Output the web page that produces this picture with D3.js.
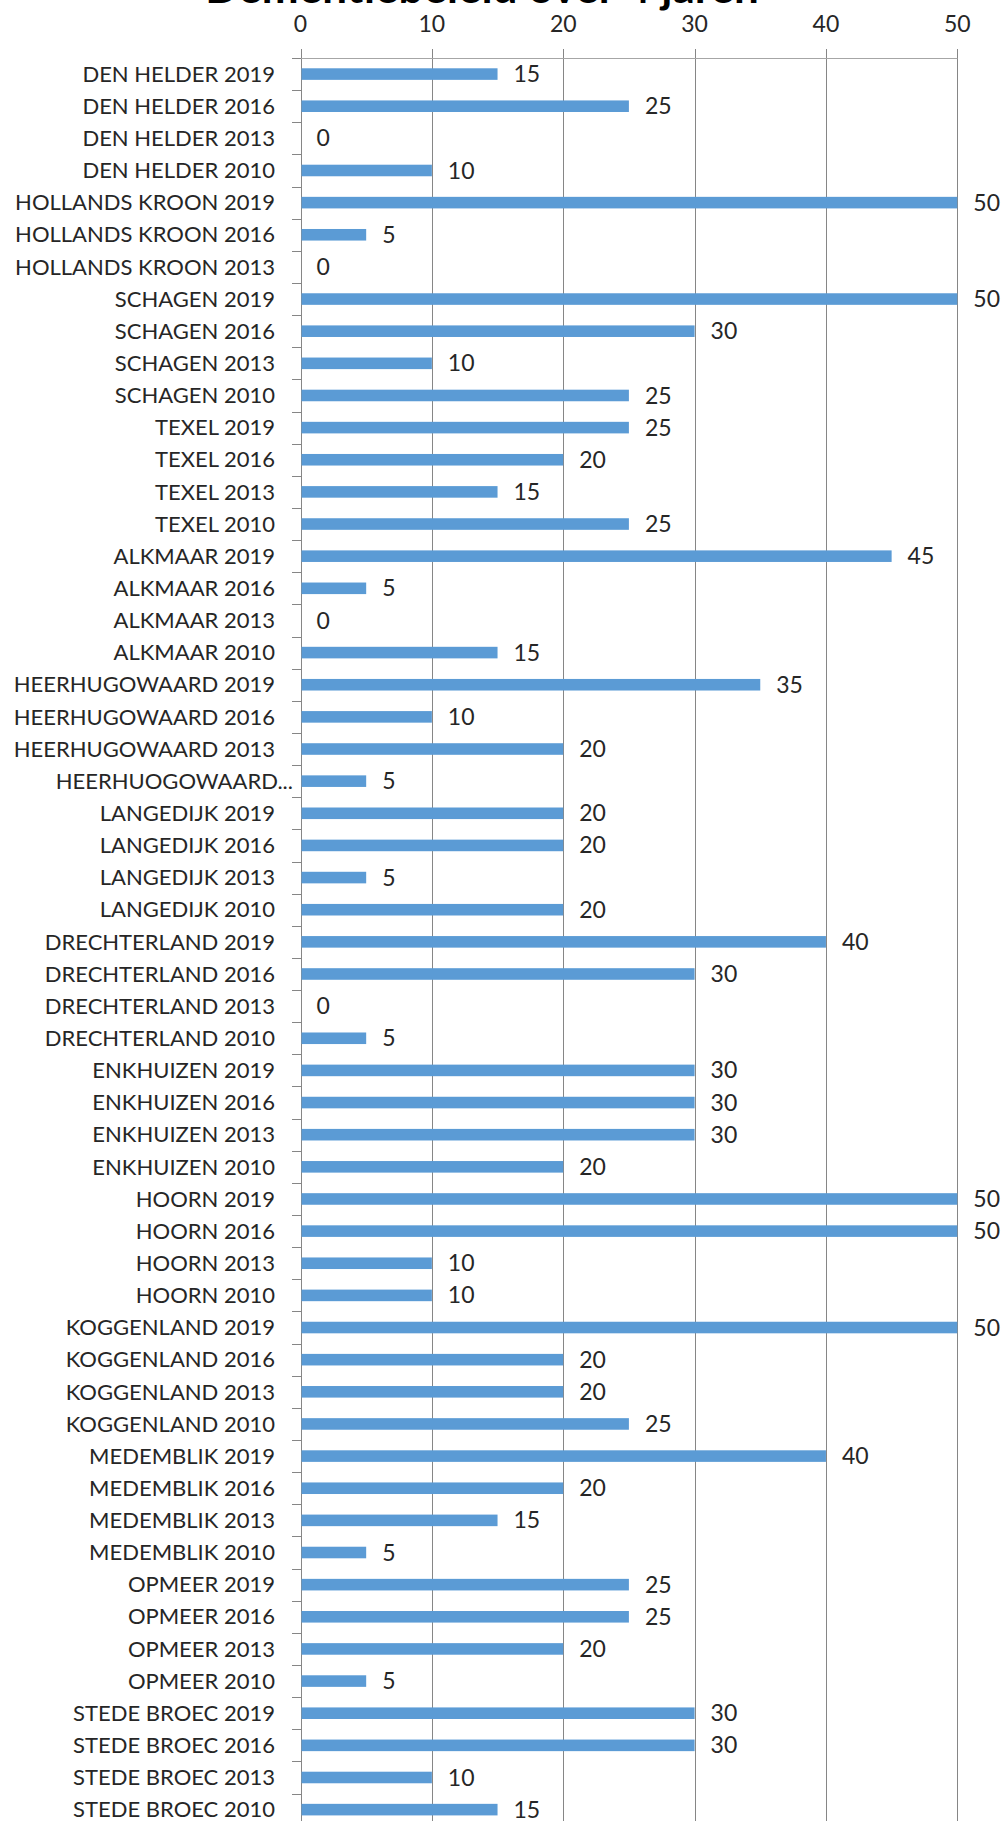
<!DOCTYPE html>
<html>
<head>
<meta charset="utf-8">
<script src="https://cdn.jsdelivr.net/npm/d3@7"></script>
<style>
  body { margin: 0; background: #fff; }
  svg { display: block; font-family: Lato, "Open Sans", sans-serif; }
</style>
</head>
<body>
<svg id="chart" width="1004" height="1821"></svg>
<script>
var title = 'Dementiebeleid over 4 jaren';

var categories = [
    'DEN HELDER 2019', 'DEN HELDER 2016', 'DEN HELDER 2013', 'DEN HELDER 2010',
    'HOLLANDS KROON 2019', 'HOLLANDS KROON 2016', 'HOLLANDS KROON 2013',
    'SCHAGEN 2019', 'SCHAGEN 2016', 'SCHAGEN 2013', 'SCHAGEN 2010',
    'TEXEL 2019', 'TEXEL 2016', 'TEXEL 2013', 'TEXEL 2010',
    'ALKMAAR 2019', 'ALKMAAR 2016', 'ALKMAAR 2013', 'ALKMAAR 2010',
    'HEERHUGOWAARD 2019', 'HEERHUGOWAARD 2016', 'HEERHUGOWAARD 2013', 'HEERHUOGOWAARD...',
    'LANGEDIJK 2019', 'LANGEDIJK 2016', 'LANGEDIJK 2013', 'LANGEDIJK 2010',
    'DRECHTERLAND 2019', 'DRECHTERLAND 2016', 'DRECHTERLAND 2013', 'DRECHTERLAND 2010',
    'ENKHUIZEN 2019', 'ENKHUIZEN 2016', 'ENKHUIZEN 2013', 'ENKHUIZEN 2010',
    'HOORN 2019', 'HOORN 2016', 'HOORN 2013', 'HOORN 2010',
    'KOGGENLAND 2019', 'KOGGENLAND 2016', 'KOGGENLAND 2013', 'KOGGENLAND 2010',
    'MEDEMBLIK 2019', 'MEDEMBLIK 2016', 'MEDEMBLIK 2013', 'MEDEMBLIK 2010',
    'OPMEER 2019', 'OPMEER 2016', 'OPMEER 2013', 'OPMEER 2010',
    'STEDE BROEC 2019', 'STEDE BROEC 2016', 'STEDE BROEC 2013', 'STEDE BROEC 2010'
];

var values = [
    15, 25, 0, 10,
    50, 5, 0,
    50, 30, 10, 25,
    25, 20, 15, 25,
    45, 5, 0, 15,
    35, 10, 20, 5,
    20, 20, 5, 20,
    40, 30, 0, 5,
    30, 30, 30, 20,
    50, 50, 10, 10,
    50, 20, 20, 25,
    40, 20, 15, 5,
    25, 25, 20, 5,
    30, 30, 10, 15
];

var xTicks = [0, 10, 20, 30, 40, 50];

(function () {
    var data = categories.map(function (c, i) { return [c, values[i]]; });

    var svg = d3.select('#chart'),
        plotTop = 58,
        step = 32.14,
        plotBottom = plotTop + step * categories.length;

    var x = d3.scaleLinear().domain([0, 50]).range([300.5, 957.3]);
    var y = d3.scaleBand()
        .domain(categories)
        .range([plotTop, plotBottom])
        .paddingInner(0.64)
        .paddingOuter(0.32);

    // title, mostly cut off by the top edge
    svg.append('text')
        .attr('x', 482).attr('y', 3)
        .attr('text-anchor', 'middle')
        .style('font-size', '44px').style('font-weight', 'bold')
        .style('fill', '#000')
        .text(title);

    // vertical gridlines, with short ticks above the top line
    svg.append('g').selectAll('line')
        .data(xTicks)
        .enter().append('line')
        .attr('x1', function (d) { return Math.round(x(d)) + 0.5; })
        .attr('x2', function (d) { return Math.round(x(d)) + 0.5; })
        .attr('y1', 49).attr('y2', 1821)
        .style('stroke', '#868686').style('stroke-width', 1);

    // top axis line
    svg.append('line')
        .attr('x1', 292).attr('x2', Math.round(x(50)) + 0.5)
        .attr('y1', plotTop + 0.5).attr('y2', plotTop + 0.5)
        .style('stroke', '#a6a6a6');

    // x tick labels
    svg.append('g').selectAll('text')
        .data(xTicks)
        .enter().append('text')
        .attr('x', function (d) { return x(d); })
        .attr('y', 24)
        .attr('dy', '0.35em')
        .attr('text-anchor', 'middle')
        .style('font-size', '23px').style('fill', '#262626')
        .text(function (d) { return d; });

    // y ticks between categories
    svg.append('g').selectAll('line')
        .data(d3.range(categories.length + 1))
        .enter().append('line')
        .attr('x1', 292).attr('x2', 301)
        .attr('y1', function (i) { return Math.round(plotTop + i * step) + 0.5; })
        .attr('y2', function (i) { return Math.round(plotTop + i * step) + 0.5; })
        .style('stroke', '#868686');

    // bars
    svg.append('g').selectAll('rect')
        .data(data)
        .enter().append('rect')
        .attr('x', x(0) + 1)
        .attr('y', function (d) { return y(d[0]); })
        .attr('width', function (d) { return Math.max(0, x(d[1]) - x(0) - 1); })
        .attr('height', y.bandwidth())
        .style('fill', '#5b9bd5');

    // category labels
    svg.append('g').selectAll('text')
        .data(data)
        .enter().append('text')
        .attr('x', function (d) { return /\.\.\.$/.test(d[0]) ? 293 : 275; })
        .attr('y', function (d) { return y(d[0]) + y.bandwidth() / 2; })
        .attr('dy', '0.35em')
        .attr('text-anchor', 'end')
        .style('font-size', '22px').style('fill', '#262626')
        .text(function (d) { return d[0]; });

    // value labels
    svg.append('g').selectAll('text')
        .data(data)
        .enter().append('text')
        .attr('x', function (d) { return x(d[1]) + 16; })
        .attr('y', function (d) { return y(d[0]) + y.bandwidth() / 2; })
        .attr('dy', '0.35em')
        .style('font-size', '23px').style('fill', '#262626')
        .text(function (d) { return d[1]; });
})();
</script>
</body>
</html>
